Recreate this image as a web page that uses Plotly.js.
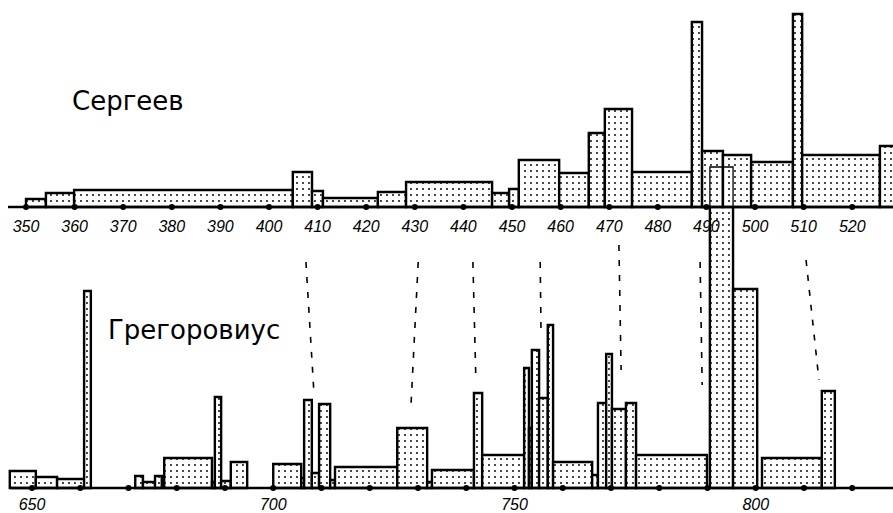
<!DOCTYPE html>
<html><head><meta charset="utf-8">
<script src="https://cdn.plot.ly/plotly-3.0.1.min.js"></script>
<style>html,body{margin:0;padding:0;background:#fff}#chart{width:893px;height:513px}</style>
</head><body><div id="chart"></div>
<script>
// ---- Сергеев (upper chart): bins [left, right) and heights ----
const sergLeft  = [350.0,354.1,359.9,404.9,408.85,411.1,422.4,428.2,445.9,449.4,451.4,459.7,465.8,469.1,474.7,487.0,489.1,493.4,499.2,507.8,509.7,525.7];
const sergRight = [354.1,359.9,404.9,408.85,411.1,422.4,428.2,445.9,449.4,451.4,459.7,465.8,469.1,474.7,487.0,489.1,493.4,499.2,507.8,509.7,525.7,530.0];
const sergHeight= [8,14,17,35,16,9,15,25,14,18,47,34,74,98,35,185,56,52,45,193,52,61];
const sergTicks = [350,360,370,380,390,400,410,420,430,440,450,460,470,480,490,500,510,520];

// ---- Грегоровиус (lower chart) ----
const gregLeft  = [645.4,650.8,655.2,660.8,671.4,673.0,675.5,677.4,687.3,687.9,689.2,691.2,700.0,705.8,706.4,708.0,709.5,711.8,712.8,725.7,731.9,732.9,741.6,743.3,752.0,753.0,753.6,755.1,756.9,758.0,766.1,767.3,769.0,770.2,773.1,775.2,790.5,795.3,801.3,813.7];
const gregRight = [650.8,655.2,660.8,662.2,673.0,675.5,676.9,687.3,687.9,689.2,691.2,694.6,705.8,706.4,708.0,709.5,711.8,712.8,725.7,731.9,732.9,741.6,743.3,752.0,753.0,753.6,755.1,756.9,758.0,766.1,767.3,769.0,770.2,773.1,775.2,789.9,795.3,800.3,813.7,816.4];
const gregHeight= [17,11,9,197,12,6,12,30,6,91,7,26,24,10,88,15,84,8,21,60,6,18,95,33,120,60,138,90,163,26,13,85,134,79,85,33,321,199,30,97];
const gregDots  = [650,660,670,680,690,700,710,720,730,740,750,760,770,780,790,800,810,820];
const gregTicks = [650,700,750,800];

// ---- correspondence lines: upper year -> lower year ----
const linkTop    = [407.6,430.7,441.95,455.8,472.0,488.7,510.5];
const linkBottom = [708.4,728.5,742.0,755.5,772.1,788.9,813.1];

// ---- layout geometry (not data) ----
const W = 893, H = 513;
const TOP_BASE = 306, BOT_BASE = 25;
const topRange = [344.65, 528.39];
const botRange = [643.37, 828.45];
const linkY0 = [251,251,251,251,268,251,253];
const linkY1 = [123,103,133,181,143,128,133];

const mid = (l, r) => l.map((v, i) => (v + r[i]) / 2);
const wid = (l, r) => l.map((v, i) => r[i] - v);
const toPaper = (v, rg) => (v - rg[0]) / (rg[1] - rg[0]);

const pattern = {shape: '.', fgcolor: '#000', bgcolor: '#fff', size: 6, solidity: 0.08};
const barLine = {color: '#000', width: 2.4};

// lower chart on primary x axis, upper chart on overlaying x2 (drawn above)
const traces = [
  {type: 'bar', xaxis: 'x', yaxis: 'y', x: mid(gregLeft, gregRight), width: wid(gregLeft, gregRight),
   y: gregHeight, base: BOT_BASE, marker: {color: '#fff', pattern: pattern, line: barLine}, hoverinfo: 'skip'},
  {type: 'scatter', mode: 'markers', xaxis: 'x', yaxis: 'y', x: gregDots, y: gregDots.map(() => BOT_BASE),
   marker: {color: '#000', size: 6}, hoverinfo: 'skip', cliponaxis: false},
  {type: 'bar', xaxis: 'x2', yaxis: 'y', x: mid(sergLeft, sergRight), width: wid(sergLeft, sergRight),
   y: sergHeight, base: TOP_BASE, marker: {color: '#fff', pattern: pattern, line: barLine}, hoverinfo: 'skip'},
  {type: 'scatter', mode: 'markers', xaxis: 'x2', yaxis: 'y', x: sergTicks, y: sergTicks.map(() => TOP_BASE),
   marker: {color: '#000', size: 6}, hoverinfo: 'skip', cliponaxis: false}
];

const tickFont = {family: 'Liberation Sans, Arial, sans-serif', size: 16, color: '#000', style: 'italic'};

const shapes = [
  {type: 'line', xref: 'paper', yref: 'y', x0: 8 / W, x1: 1, y0: TOP_BASE, y1: TOP_BASE, line: {color: '#000', width: 2.4}, layer: 'above'},
  {type: 'line', xref: 'paper', yref: 'y', x0: 10 / W, x1: 1, y0: BOT_BASE, y1: BOT_BASE, line: {color: '#000', width: 2.4}, layer: 'above'}
];
// thin outline of lower bars that reach into the upper chart, seen through the upper bars
gregHeight.forEach((h, i) => {
  if (BOT_BASE + h > TOP_BASE) {
    shapes.push({type: 'rect', xref: 'x', yref: 'y', x0: gregLeft[i], x1: gregRight[i], y0: TOP_BASE,
      y1: BOT_BASE + h, line: {color: '#000', width: 1.3}, fillcolor: 'rgba(0,0,0,0)', layer: 'above'});
  }
});
linkTop.forEach((t, i) => {
  shapes.push({type: 'line', xref: 'paper', yref: 'y',
    x0: toPaper(t, topRange), y0: linkY0[i], x1: toPaper(linkBottom[i], botRange), y1: linkY1[i],
    line: {color: '#000', width: 1.6, dash: '6px,9px'}, layer: 'above'});
});

const layout = {
  width: W, height: H, margin: {l: 0, r: 0, t: 0, b: 0},
  paper_bgcolor: '#fff', plot_bgcolor: '#fff', showlegend: false, bargap: 0,
  xaxis: {range: botRange, domain: [0, 1], anchor: 'free', position: BOT_BASE / H, showgrid: false,
          zeroline: false, showline: false, ticks: '', tickvals: gregTicks, ticktext: gregTicks.map(String),
          tickfont: tickFont, ticklabelstandoff: 5, fixedrange: true},
  xaxis2: {range: topRange, domain: [0, 1], overlaying: 'x', anchor: 'free', position: TOP_BASE / H, side: 'bottom',
          showgrid: false, zeroline: false, showline: false, ticks: '', tickvals: sergTicks,
          ticktext: sergTicks.map(String), tickfont: tickFont, ticklabelstandoff: 8, fixedrange: true},
  yaxis: {range: [0, H], domain: [0, 1], visible: false, fixedrange: true},
  shapes: shapes,
  annotations: [
    {text: 'Сергеев', xref: 'paper', yref: 'paper', x: 128 / W, y: 1 - 101 / H, showarrow: false,
     font: {family: 'DejaVu Sans, sans-serif', size: 26, color: '#000'}, xanchor: 'center', yanchor: 'middle'},
    {text: 'Грегоровиус', xref: 'paper', yref: 'paper', x: 194 / W, y: 1 - 330 / H, showarrow: false,
     font: {family: 'DejaVu Sans, sans-serif', size: 26, color: '#000'}, xanchor: 'center', yanchor: 'middle'}
  ]
};

Plotly.newPlot('chart', traces, layout, {displayModeBar: false, staticPlot: true});
</script>
</body></html>
